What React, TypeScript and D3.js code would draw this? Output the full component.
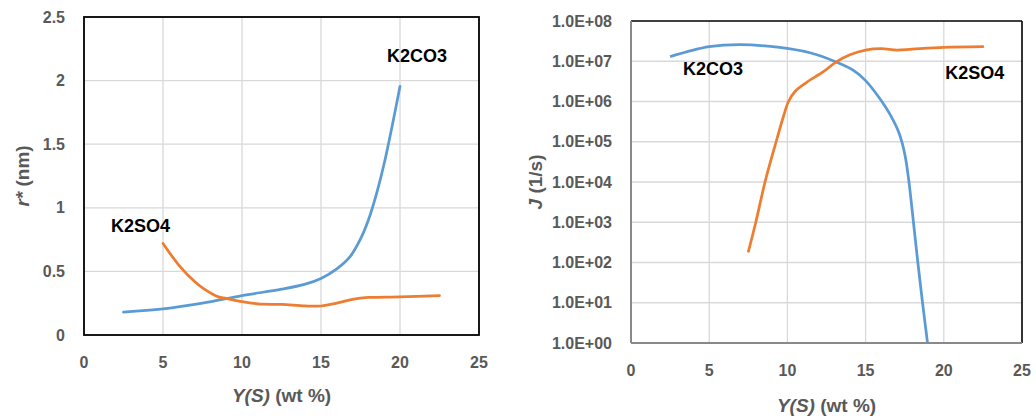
import React from "react";
import * as d3 from "d3";

// ---- Left chart data: r* (nm) vs Y(S) (wt %)
const rK2CO3_x = [2.5, 5, 7.5, 10, 12.5, 14, 15, 16, 16.84, 17.47, 18, 18.52, 19.05, 19.58, 20];
const rK2CO3_y = [0.18, 0.205, 0.25, 0.31, 0.36, 0.4, 0.445, 0.52, 0.616, 0.747, 0.904, 1.114, 1.376, 1.69, 1.955];
const rK2SO4_x = [5, 6, 7, 7.5, 8.5, 9, 10, 11, 12.5, 14, 15, 16, 17, 18, 20, 22.5];
const rK2SO4_y = [0.72, 0.55, 0.42, 0.37, 0.3, 0.288, 0.262, 0.245, 0.24, 0.228, 0.228, 0.25, 0.28, 0.295, 0.3, 0.31];

// ---- Right chart data: J (1/s) vs Y(S) (wt %)
const jK2CO3_x = [2.5, 5, 7, 9.5, 11.5, 13, 14.2, 15, 16.04, 16.57, 17.1, 17.35, 17.55, 17.76, 18.06, 18.34, 18.64, 18.96];
const jK2CO3_y = [1.3e7, 2.3e7, 2.6e7, 2.2e7, 1.6e7, 1.0e7, 6.0e6, 3.3e6, 1.0e6, 4.7e5, 1.8e5, 9.0e4, 4.0e4, 1.1e4, 1e3, 1e2, 10, 1];
const jK2SO4_x = [7.51, 7.98, 8.57, 9.28, 9.75, 10.07, 10.5, 11.23, 12.3, 13.15, 14, 15, 16, 17, 18, 20, 22.5];
const jK2SO4_y = [1.9e2, 1e3, 1e4, 1e5, 4.3e5, 1e6, 1.8e6, 3.0e6, 5.5e6, 9.8e6, 1.45e7, 1.9e7, 2.05e7, 1.9e7, 2.0e7, 2.2e7, 2.3e7];

const xTicks = [0, 5, 10, 15, 20, 25];
const rTicks = [0, 0.5, 1, 1.5, 2, 2.5];
const rTickLabels = ["0", "0.5", "1", "1.5", "2", "2.5"];
const jTicks = [1, 10, 100, 1e3, 1e4, 1e5, 1e6, 1e7, 1e8];
const jTickLabels = ["1.0E+00", "1.0E+01", "1.0E+02", "1.0E+03", "1.0E+04", "1.0E+05", "1.0E+06", "1.0E+07", "1.0E+08"];
const seriesNames = ["K2CO3", "K2SO4"];

const BLUE = "#5B9BD5";
const ORANGE = "#ED7D31";
const GRID = "#D9D9D9";
const TXT = "#595959";
const FONT = "'Liberation Sans', Arial, sans-serif";

export default function App() {
  // left chart scales
  const lx = d3.scaleLinear().domain([0, 25]).range([84, 479]);
  const ly = d3.scaleLinear().domain([0, 2.5]).range([335, 17]);
  // right chart scales
  const rx = d3.scaleLinear().domain([0, 25]).range([631, 1022]);
  const ry = d3.scaleLog().domain([1, 1e8]).range([343, 21]);

  const lineL = d3.line<[number, number]>().x(d => lx(d[0])).y(d => ly(d[1])).curve(d3.curveCatmullRom.alpha(0.5));
  const lineR = d3.line<[number, number]>().x(d => rx(d[0])).y(d => ry(d[1])).curve(d3.curveCatmullRom.alpha(0.5));

  const zip = (a: number[], b: number[]) => a.map((v, i) => [v, b[i]] as [number, number]);

  return (
    <svg width={1036} height={418} style={{ position: "absolute", left: 0, top: 0, background: "#fff" }} fontFamily={FONT}>
      <rect x={0} y={0} width={1036} height={418} fill="#fff" />
      {/* ---------- LEFT CHART ---------- */}
      <g>
        {xTicks.slice(1, -1).map(t => (
          <line key={"lvx" + t} x1={lx(t)} x2={lx(t)} y1={ly(0)} y2={ly(2.5)} stroke={GRID} strokeWidth={1.3} />
        ))}
        {rTicks.slice(1, -1).map(t => (
          <line key={"lhy" + t} x1={lx(0)} x2={lx(25)} y1={ly(t)} y2={ly(t)} stroke={GRID} strokeWidth={1.3} />
        ))}
        <rect x={lx(0)} y={ly(2.5)} width={lx(25) - lx(0)} height={ly(0) - ly(2.5)} fill="none" stroke="#000" strokeWidth={1.8} />
        {xTicks.map(t => (
          <text key={"lxt" + t} x={lx(t)} y={ly(0) + 27} textAnchor="middle" dominantBaseline="central" fontSize={16} fontWeight="bold" fill={TXT}>{t}</text>
        ))}
        {rTicks.map((t, i) => (
          <text key={"lyt" + t} x={lx(0) - 19} y={ly(t)} textAnchor="end" dominantBaseline="central" fontSize={16} fontWeight="bold" fill={TXT}>{rTickLabels[i]}</text>
        ))}
        <path d={lineL(zip(rK2CO3_x, rK2CO3_y)) || ""} fill="none" stroke={BLUE} strokeWidth={2.75} strokeLinecap="round" />
        <path d={lineL(zip(rK2SO4_x, rK2SO4_y)) || ""} fill="none" stroke={ORANGE} strokeWidth={2.75} strokeLinecap="round" />
        <text x={lx(19.18)} y={ly(2.19)} dominantBaseline="central" fontSize={18} fontWeight="bold" fill="#000">{seriesNames[0]}</text>
        <text x={lx(1.71)} y={ly(0.857)} dominantBaseline="central" fontSize={18} fontWeight="bold" fill="#000">{seriesNames[1]}</text>
        <text x={(lx(0) + lx(25)) / 2} y={395} textAnchor="middle" dominantBaseline="central" fontSize={19} fontWeight="bold" fill={TXT}>
          <tspan fontStyle="italic">Y(S)</tspan>{" (wt %)"}
        </text>
        <text transform={`translate(22,${(ly(0) + ly(2.5)) / 2}) rotate(-90)`} textAnchor="middle" dominantBaseline="central" fontSize={19} fontWeight="bold" fill={TXT}>
          <tspan fontStyle="italic">r*</tspan>{" (nm)"}
        </text>
      </g>

      {/* ---------- RIGHT CHART ---------- */}
      <g>
        {xTicks.slice(1, -1).map(t => (
          <line key={"rvx" + t} x1={rx(t)} x2={rx(t)} y1={ry(1)} y2={ry(1e8)} stroke={GRID} strokeWidth={1.3} />
        ))}
        {jTicks.slice(1, -1).map(t => (
          <line key={"rhy" + t} x1={rx(0)} x2={rx(25)} y1={ry(t)} y2={ry(t)} stroke={GRID} strokeWidth={1.3} />
        ))}
        <line x1={rx(0)} x2={rx(25)} y1={ry(1e8)} y2={ry(1e8)} stroke="#000" strokeWidth={1.6} />
        <line x1={rx(25)} x2={rx(25)} y1={ry(1e8)} y2={ry(1)} stroke="#000" strokeWidth={1.6} />
        <line x1={rx(0)} x2={rx(0)} y1={ry(1e8)} y2={ry(1)} stroke="#898989" strokeWidth={2} />
        <path d={lineR(zip(jK2CO3_x, jK2CO3_y)) || ""} fill="none" stroke={BLUE} strokeWidth={2.75} strokeLinecap="butt" />
        <path d={lineR(zip(jK2SO4_x, jK2SO4_y)) || ""} fill="none" stroke={ORANGE} strokeWidth={2.75} strokeLinecap="round" />
        <line x1={rx(0)} x2={rx(25)} y1={ry(1)} y2={ry(1)} stroke="#898989" strokeWidth={2} />
        {xTicks.map(t => (
          <text key={"rxt" + t} x={rx(t)} y={ry(1) + 27} textAnchor="middle" dominantBaseline="central" fontSize={16} fontWeight="bold" fill={TXT}>{t}</text>
        ))}
        {jTicks.map((t, i) => (
          <text key={"ryt" + t} x={rx(0) - 19} y={ry(t)} textAnchor="end" dominantBaseline="central" fontSize={16} fontWeight="bold" fill={TXT}>{jTickLabels[i]}</text>
        ))}
        <text x={rx(3.33)} y={ry(Math.pow(10, 6.81))} dominantBaseline="central" fontSize={18} fontWeight="bold" fill="#000">{seriesNames[0]}</text>
        <text x={rx(20.09)} y={ry(Math.pow(10, 6.71))} dominantBaseline="central" fontSize={18} fontWeight="bold" fill="#000">{seriesNames[1]}</text>
        <text x={(rx(0) + rx(25)) / 2} y={405} textAnchor="middle" dominantBaseline="central" fontSize={19} fontWeight="bold" fill={TXT}>
          <tspan fontStyle="italic">Y(S)</tspan>{" (wt %)"}
        </text>
        <text transform={`translate(535,${(ry(1) + ry(1e8)) / 2}) rotate(-90)`} textAnchor="middle" dominantBaseline="central" fontSize={19} fontWeight="bold" fill={TXT}>
          <tspan fontStyle="italic">J</tspan>{" (1/s)"}
        </text>
      </g>
    </svg>
  );
}
